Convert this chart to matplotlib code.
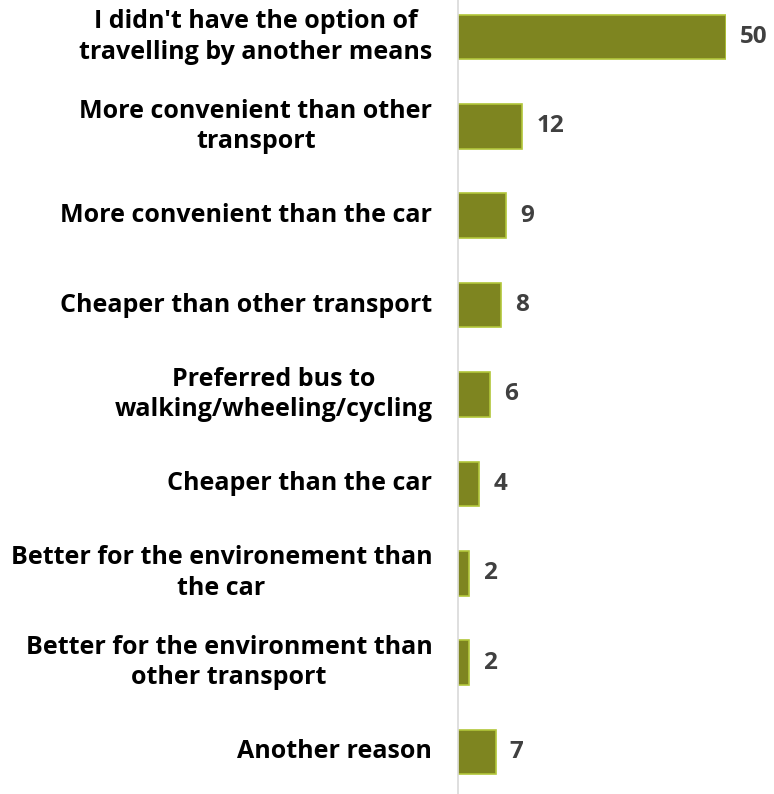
import matplotlib.pyplot as plt

reasons = [
    "I didn't have the option of\ntravelling by another means",
    "More convenient than other\ntransport",
    "More convenient than the car",
    "Cheaper than other transport",
    "Preferred bus to\nwalking/wheeling/cycling",
    "Cheaper than the car",
    "Better for the environement than\nthe car",
    "Better for the environment than\nother transport",
    "Another reason",
]
values = [50, 12, 9, 8, 6, 4, 2, 2, 7]

plt.rcParams['font.family'] = ['Open Sans', 'DejaVu Sans']

fig = plt.figure(figsize=(7.74, 7.94), dpi=100)
ax = fig.add_axes([458 / 774, 0, 268 / 774, 1])

pos = list(range(len(values)))
ax.barh(pos, values, height=0.5, color='#7E8520', edgecolor='#B2C63A', linewidth=1.2)
ax.set_xlim(0, 50)
ax.set_ylim(8.47, -0.414)

for p, v, r in zip(pos, values, reasons):
    ax.text(v + 2.6, p, str(v), va='center', ha='left', fontsize=17.5,
            fontweight='bold', color='#404040', clip_on=False)
    ax.text(-4.8, p, r, va='center', ha='right', multialignment='center',
            fontsize=18, fontweight='bold', color='black',
            linespacing=1.3, clip_on=False)

ax.set_xticks([])
ax.set_yticks([])
for s in ['top', 'right', 'bottom']:
    ax.spines[s].set_visible(False)
ax.spines['left'].set_color('#D9D9D9')
ax.spines['left'].set_linewidth(1.2)

fig.savefig('out.png', dpi=100)
